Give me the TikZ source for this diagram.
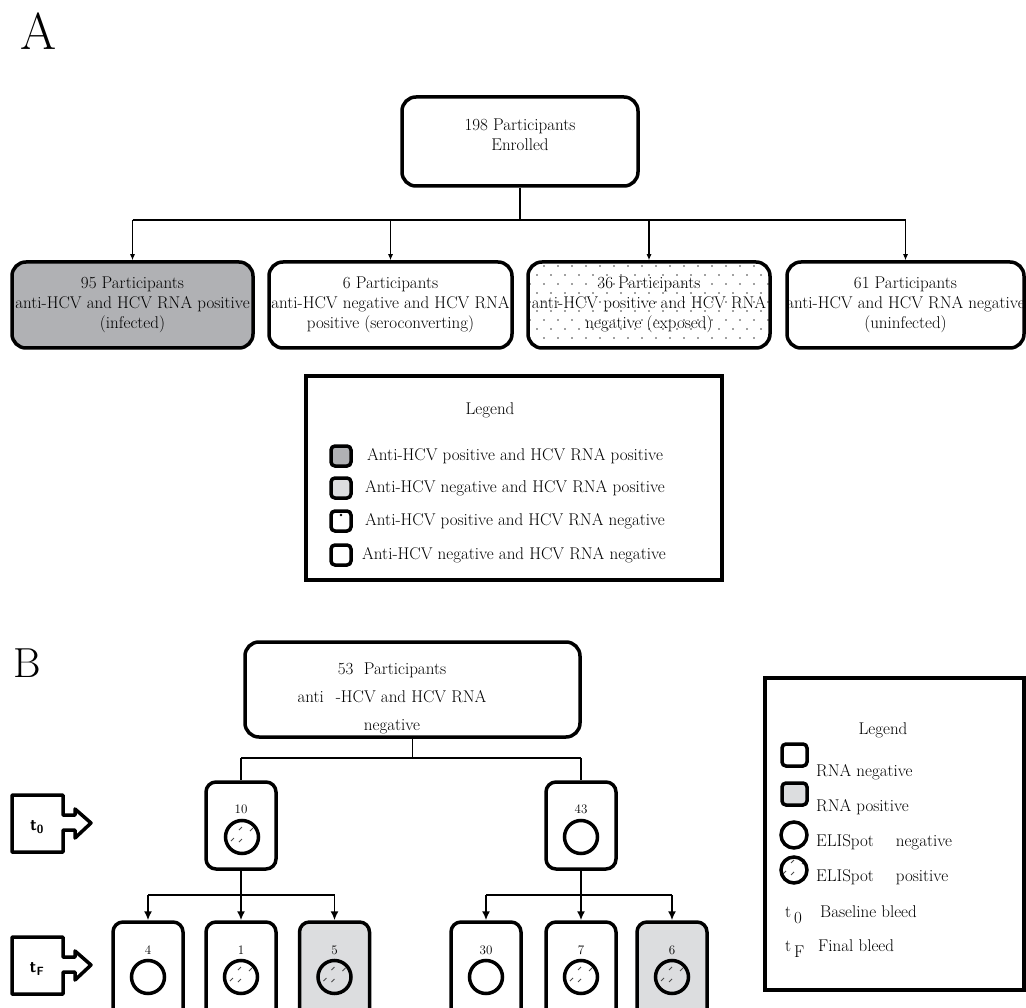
\documentclass[tikz,border=0pt]{standalone}
\usetikzlibrary{arrows.meta}
\definecolor{infgray}{RGB}{176,177,180}
\definecolor{posgray}{RGB}{220,221,223}
\tikzset{
  pbox/.style={draw, line width=3.5pt, rounded corners=14pt, inner sep=0pt,
    minimum width=#1},
  btext/.style={inner sep=0pt, align=center},
  sbox/.style={draw, line width=3.5pt, rounded corners=10pt, inner sep=0pt,
    minimum width=70pt, minimum height=87pt},
  key/.style={draw, line width=3.5pt, rounded corners=4pt, inner sep=0pt,
    minimum width=20pt, minimum height=20pt},
  spot/.style={circle, draw, line width=3.5pt, inner sep=0pt, minimum size=33pt},
  spotpos/.style={spot, path picture={
    \foreach \dx/\dy in {-3/-7, 8/-6, -11/4, -3/5}
      \draw[black!70, line width=0.8pt]
        ([shift={(\dx,\dy)}]path picture bounding box.center) -- ++(3,-3);}},
  lbl/.style={inner sep=0pt},
  num/.style={inner sep=0pt, font=\fontsize{13}{15}\selectfont},
}
\begin{document}
\begin{tikzpicture}[x=1pt,y=-1pt,font=\fontsize{17}{20}\selectfont]
\useasboundingbox (0,0) rectangle (1026,1008);

% panel A
\node[lbl, font=\fontsize{52}{52}\selectfont] (tagA) at (39,31) {A};
\node[pbox=236pt, minimum height=89pt] (top) at (520,141.5) {};
\node[btext] (topt) at (520,135) {198 Participants\\Enrolled};

\begin{scope}
\clip[rounded corners=14pt] (528,262) rectangle (770,348);
\foreach \r in {0,...,9}
  \foreach \c in {0,...,18}
    \fill[black!75] ({530+14*\c+7*mod(\r,2)},{266+9*\r}) circle (0.9);
\end{scope}

\node[pbox=241pt, minimum height=86pt, fill=infgray] (inf) at (132.5,305) {};
\node[pbox=243pt, minimum height=86pt] (sero) at (390.5,305) {};
\node[pbox=242pt, minimum height=86pt] (expo) at (649,305) {};
\node[pbox=237pt, minimum height=86pt] (uninf) at (905.5,305) {};
\node[btext] (inft) at (inf) {95 Participants\\anti-HCV and HCV RNA positive\\(infected)};
\node[btext] (serot) at (sero) {6 Participants\\anti-HCV negative and HCV RNA\\positive (seroconverting)};
\node[btext] (expot) at (expo) {36 Participants\\anti-HCV positive and HCV RNA\\negative (exposed)};
\node[btext] (uninft) at (uninf) {61 Participants\\anti-HCV and HCV RNA negative\\(uninfected)};

\coordinate (busA) at (520,220);
\draw[line width=1.1pt] (top.south) -- (busA);
\draw[line width=1.1pt] (inf.north |- busA) -- (uninf.north |- busA);
\foreach \n in {inf,sero,expo,uninf}
  \draw[line width=1.1pt, -{Latex[length=6pt,width=5pt]}] (\n.north |- busA) -- (\n.north);

% legend A
\node[draw, line width=3.5pt, minimum width=416pt, minimum height=204pt] (legA) at (514,478) {};
\node[lbl] (legAt) at (490,410) {Legend};
\node[key, fill=infgray] (ka) at (341,456) {};
\node[key, fill=posgray] (kb) at (341,488) {};
\node[key] (kc) at (341,521) {};
\node[key] (kd) at (341,555) {};
\fill (341,515) circle (1.3);
\node[lbl, anchor=west] (ta) at (367,456) {Anti-HCV positive and HCV RNA positive};
\node[lbl, anchor=west] (tb) at (365,488) {Anti-HCV negative and HCV RNA positive};
\node[lbl, anchor=west] (tc) at (365,521) {Anti-HCV positive and HCV RNA negative};
\node[lbl, anchor=west] (td) at (362,555) {Anti-HCV negative and HCV RNA negative};

% panel B
\node[lbl, font=\fontsize{42}{42}\selectfont] (tagB) at (27,663) {B};
\node[pbox=335pt, minimum height=95pt] (cohort) at (412.5,689.5) {};
\node[btext, font=\fontsize{17}{28}\selectfont] (cohortt) at (392,698)
  {53\ \ Participants\\anti\hspace{12pt}-HCV and HCV RNA\\negative};

\foreach \yy/\sub [count=\k] in {795/0, 937/F} {
  \draw[line width=3.5pt, line join=round] (12,\yy) -- (63,\yy) -- (63,{\yy+20})
    -- (75,{\yy+20}) -- (75,{\yy+14}) -- (91,{\yy+28}) -- (75,{\yy+43})
    -- (75,{\yy+35}) -- (63,{\yy+35}) -- (63,{\yy+57}) -- (12,{\yy+57}) -- cycle;
  \node[lbl, font=\sffamily\bfseries\fontsize{17}{17}\selectfont] (tick\k) at (37,{\yy+32})
    {t\textsubscript{\sub}};
}

\node[sbox] (z1) at (241,825.5) {};
\node[sbox] (z2) at (581,825.5) {};
\node[num] (nz1) at (241,809) {10};
\node[num] (nz2) at (581,809) {43};
\node[spotpos] (cz1) at (242,837) {};
\node[spot] (cz2) at (581,837) {};

\node[sbox, minimum height=100pt] (f1) at (148,972) {};
\node[sbox, minimum height=100pt] (f2) at (241,972) {};
\node[sbox, minimum height=100pt, fill=posgray] (f3) at (334.5,972) {};
\node[sbox, minimum height=100pt] (f4) at (486,972) {};
\node[sbox, minimum height=100pt] (f5) at (581,972) {};
\node[sbox, minimum height=100pt, fill=posgray] (f6) at (672,972) {};
\foreach \n/\v in {f1/4, f2/1, f3/5, f4/30, f5/7, f6/6}
  \node[num] (n\n) at ([yshift=22pt]\n.center) {\v};
\node[spot] (cf1) at (148,977) {};
\node[spotpos] (cf2) at (241,977) {};
\node[spotpos] (cf3) at (334.5,977) {};
\node[spot] (cf4) at (486,977) {};
\node[spotpos] (cf5) at (581,977) {};
\node[spotpos] (cf6) at (672,977) {};

\coordinate (busB) at (412.5,758);
\coordinate (busL) at (241,895);
\coordinate (busR) at (581,895);
\draw[line width=1.6pt] (cohort.south) -- (busB);
\draw[line width=1.6pt] (z1.north |- busB) -- (z2.north |- busB);
\draw[line width=1.6pt] (z1.north |- busB) -- (z1.north);
\draw[line width=1.6pt] (z2.north |- busB) -- (z2.north);
\draw[line width=1.6pt] (z1.south) -- (busL);
\draw[line width=1.6pt] (z2.south) -- (busR);
\draw[line width=1.6pt] (f1.north |- busL) -- (f3.north |- busL);
\draw[line width=1.6pt] (f4.north |- busR) -- (f6.north |- busR);
\foreach \n in {f1,f2,f3}
  \draw[line width=1.6pt, -{Latex[length=9pt,width=8pt]}] (\n.north |- busL) -- (\n.north);
\foreach \n in {f4,f5,f6}
  \draw[line width=1.6pt, -{Latex[length=9pt,width=8pt]}] (\n.north |- busR) -- (\n.north);

% legend B
\node[draw, line width=3.5pt, minimum width=259pt, minimum height=312pt] (legB) at (894.5,834) {};
\node[lbl] (legBt) at (883,730) {Legend};
\node[key, minimum width=25pt, minimum height=22pt] (kneg) at (794.5,755) {};
\node[key, minimum width=25pt, minimum height=22pt, fill=posgray] (kpos) at (794.5,794) {};
\node[spot, minimum size=26pt] (cneg) at (794,835) {};
\node[spotpos, minimum size=26pt] (cpos) at (794,870) {};
\node[lbl, anchor=west] (tneg) at (816,772) {RNA negative};
\node[lbl, anchor=west] (tpos) at (816,807) {RNA positive};
\node[lbl, anchor=west] (tsneg) at (816,842) {ELISpot\hspace{22pt}negative};
\node[lbl, anchor=west] (tspos) at (816,877) {ELISpot\hspace{22pt}positive};
\node[lbl, anchor=west] (tzero) at (785,915) {t\,\raisebox{-6pt}{0}};
\node[lbl, anchor=west] (tbase) at (820,912) {Baseline bleed};
\node[lbl, anchor=west] (tfin) at (785,949) {t\,\raisebox{-6pt}{F}};
\node[lbl, anchor=west] (tfinal) at (818,946) {Final bleed};
\end{tikzpicture}
\end{document}
